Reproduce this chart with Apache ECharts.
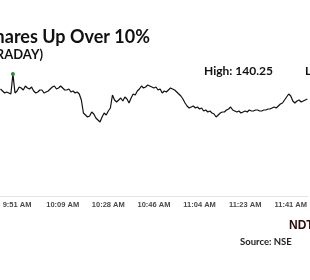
<!DOCTYPE html>
<html>
<head>
<meta charset="utf-8">
<script src="https://cdn.jsdelivr.net/npm/echarts@6/dist/echarts.min.js"></script>
<style>
  html, body { margin: 0; padding: 0; background: #fff; }
  #chart { width: 310px; height: 280px; }
</style>
</head>
<body>
<div id="chart"></div>
<script>
// intraday prices, visible window only (about two points per pixel column pair)
var prices = [
  138.75, 138.55, 138.35, 138.45, 138.35, 138.25, 140.25, 138.35, 138.55, 138.95,
  138.85, 138.65, 139.05, 138.85, 138.75, 138.95, 138.55, 138.35, 138.45, 138.65,
  138.65, 138.35, 138.45, 138.55, 138.75, 138.95, 139.05, 138.75, 138.85, 139.05,
  138.85, 138.65, 138.65, 138.75, 138.45, 138.55, 138.35, 138.45, 138.25, 137.65,
  136.35, 136.15, 135.95, 136.05, 136.45, 136.25, 135.85, 135.65, 135.45, 135.95,
  136.35, 136.15, 136.55, 136.85, 138.15, 137.65, 137.45, 137.65, 137.85, 137.55,
  137.95, 137.75, 137.35, 137.85, 138.25, 138.15, 138.55, 138.75, 139.05, 138.85,
  138.95, 139.15, 139.05, 138.95, 138.85, 138.95, 138.65, 138.75, 138.35, 138.55,
  138.45, 138.65, 138.85, 138.75, 138.65, 138.45, 138.25, 138.05, 137.75, 137.35,
  137.05, 136.85, 136.95, 137.05, 136.85, 136.95, 136.75, 136.85, 136.55, 136.65,
  136.45, 136.55, 136.35, 136.25, 135.95, 136.15, 136.35, 136.45, 136.45, 136.65,
  136.75, 136.95, 136.65, 136.55, 136.45, 136.55, 136.35, 136.45, 136.55, 136.45,
  136.65, 136.55, 136.55, 136.65, 136.65, 136.55, 136.55, 136.65, 136.65, 136.75,
  136.75, 136.85, 136.95, 136.85, 137.05, 137.25, 137.35, 137.65, 137.95, 138.25,
  138.05, 137.55, 137.35, 137.55, 137.65, 137.45, 137.55, 137.65, 137.75
];
var tickIndex = [8, 30, 52, 74, 96, 118, 140];
var tickLabels = ['9:51 AM', '10:09 AM', '10:28 AM', '10:46 AM', '11:04 AM', '11:23 AM', '11:41 AM'];
var highText = 'High: 140.25';

var categories = prices.map(function (p, i) { return String(i); });

var chart = echarts.init(document.getElementById('chart'));
chart.setOption({
  backgroundColor: '#fff',
  animation: false,
  grid: { left: 0, right: -3, top: 56.5, bottom: 83.5 },
  xAxis: {
    type: 'category',
    data: categories,
    boundaryGap: false,
    axisLine: { lineStyle: { color: '#e3e3e3', width: 1 } },
    axisTick: { show: false },
    axisLabel: {
      interval: function (idx) { return tickIndex.indexOf(idx) >= 0; },
      formatter: function (v, idx) {
        var k = tickIndex.indexOf(idx);
        return k >= 0 ? tickLabels[k] : '';
      },
      color: '#4a4a4a',
      fontSize: 7.5,
      fontWeight: 'bold',
      fontFamily: 'Liberation Sans',
      margin: 4
    },
    splitLine: { show: false }
  },
  yAxis: {
    type: 'value',
    min: 128,
    max: 142,
    show: false
  },
  series: [{
    type: 'line',
    data: prices,
    showSymbol: false,
    lineStyle: { color: '#111', width: 1.2 },
    markPoint: {
      symbol: 'circle',
      symbolSize: 4,
      itemStyle: { color: '#2e8b3e' },
      label: { show: false },
      data: [{ type: 'max' }]
    }
  }],
  graphic: [
    { type: 'text', x: 150, y: 37, style: {
      text: 'Shares Up Over 10%', align: 'right', verticalAlign: 'middle',
      font: 'bold 18px Lato', fill: '#111' } },
    { type: 'text', x: 43, y: 55, style: {
      text: '(INTRADAY)', align: 'right', verticalAlign: 'middle',
      font: 'bold 13px Lato', fill: '#111' } },
    { type: 'text', x: 204, y: 71, style: {
      text: highText, align: 'left', verticalAlign: 'middle',
      font: 'bold 12px Lato', fill: '#111' } },
    { type: 'text', x: 305, y: 71, style: {
      text: 'Low:', align: 'left', verticalAlign: 'middle',
      font: 'bold 12px Lato', fill: '#111' } },
    { type: 'text', x: 289, y: 226, style: {
      text: 'NDTV', align: 'left', verticalAlign: 'middle',
      font: '900 12px Liberation Sans', fill: '#2a0c0c' } },
    { type: 'text', x: 240, y: 242, style: {
      text: 'Source: NSE', align: 'left', verticalAlign: 'middle',
      font: 'bold 9.5px Lato', fill: '#222' } }
  ]
});
</script>
</body>
</html>
